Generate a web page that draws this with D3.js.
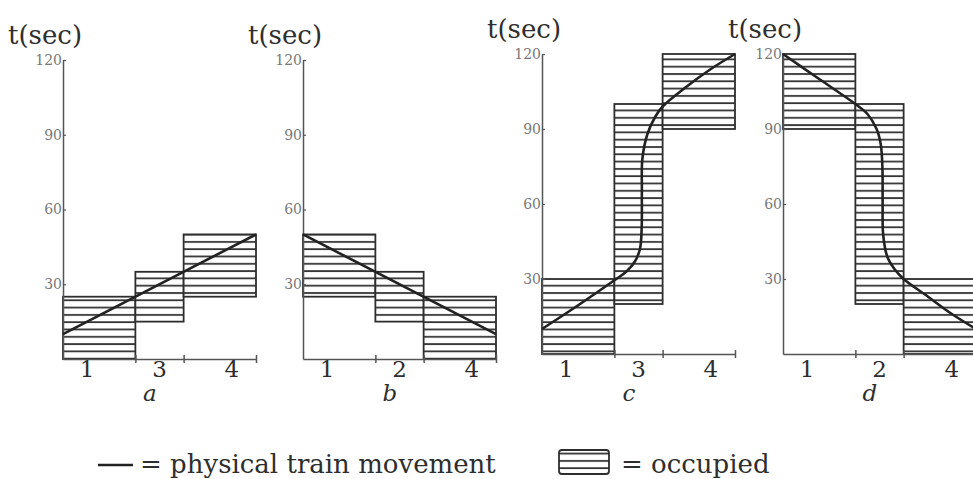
<html>
<head>
<meta charset="utf-8">
<script src="https://d3js.org/d3.v7.min.js"></script>
<style>
    html, body {
        width: 100%;
        height: 100%;
        margin: 0;
        padding: 0;
        background: #fff;
    }
</style>
</head>
<body>
<script>
    // ---- data ----
    var panelLetters = ["a", "b", "c", "d"];
    var sectionBounds = [0, 3, 5, 8];          // track position of block boundaries
    var sectionLabelPos = [1, 4, 7];           // where the block numbers are written
    var timeTicks = [30, 60, 90, 120];

    var sectionLabelsA = ["1", "3", "4"];
    var sectionLabelsB = ["1", "2", "4"];
    var sectionLabelsC = ["1", "3", "4"];
    var sectionLabelsD = ["1", "2", "4"];

    // occupied time window [from, to] (sec) for each block
    var occupiedA = [[0, 25], [15, 35], [25, 50]];
    var occupiedB = [[25, 50], [15, 35], [0, 25]];
    var occupiedC = [[0, 30], [20, 100], [90, 120]];
    var occupiedD = [[90, 120], [20, 100], [0, 30]];

    // physical train movement [position, t]
    var movementA = [[0, 10], [8, 50]];
    var movementB = [[0, 50], [8, 10]];
    var movementC = [[0, 10], [1.5, 19.5], [3, 29.5], [3.5, 33], [3.85, 37], [4.06, 42], [4.13, 50],
                     [4.14, 65], [4.16, 78], [4.37, 88], [4.7, 95], [5, 99], [6, 107], [7, 114], [8, 120]];
    var movementD = [[0, 120], [1.5, 110], [3, 100], [3.5, 96], [3.88, 90], [4.05, 84], [4.12, 75],
                     [4.13, 60], [4.15, 48], [4.32, 39], [4.62, 34], [5, 30], [6, 23], [7, 16], [8, 10]];

    var sectionLabels = [sectionLabelsA, sectionLabelsB, sectionLabelsC, sectionLabelsD];
    var occupied = [occupiedA, occupiedB, occupiedC, occupiedD];
    var movement = [movementA, movementB, movementC, movementD];

    // ---- layout ----
    var width = 973, height = 479;
    var panelX = [63, 303, 542, 783];
    var panelW = 193;
    var panelY = [[359, 60], [359, 60], [354, 54], [354, 54]];
    var ink = "#2e2e2e";
    var serif = "'DejaVu Serif', 'Liberation Serif', serif";

    var svg = d3.select("body").append("svg")
        .attr("width", width)
        .attr("height", height);

    var defs = svg.append("defs");
    var pat = defs.append("pattern")
        .attr("id", "hatch")
        .attr("patternUnits", "userSpaceOnUse")
        .attr("width", 10)
        .attr("height", 7.3);
    pat.append("rect").attr("width", 10).attr("height", 7.3).attr("fill", "#fff");
    pat.append("line")
        .attr("x1", 0).attr("x2", 10)
        .attr("y1", 1).attr("y2", 1)
        .attr("stroke", "#333")
        .attr("stroke-width", 1.8);

    panelLetters.forEach(function (letter, i) {
        var ox = panelX[i];
        var x = d3.scaleLinear().domain([0, 8]).range([ox, ox + panelW]);
        var y = d3.scaleLinear().domain([0, 120]).range(panelY[i]);
        var g = svg.append("g");

        // occupied blocks
        g.selectAll("rect.block")
            .data(occupied[i])
            .enter().append("rect")
            .attr("class", "block")
            .attr("x", function (d, k) { return x(sectionBounds[k]); })
            .attr("width", function (d, k) { return x(sectionBounds[k + 1]) - x(sectionBounds[k]); })
            .attr("y", function (d) { return y(d[1]); })
            .attr("height", function (d) { return y(d[0]) - y(d[1]); })
            .attr("fill", "url(#hatch)")
            .attr("stroke", ink)
            .attr("stroke-width", 1.8);

        // time axis
        var yAxis = d3.axisLeft(y)
            .tickValues(timeTicks)
            .tickSizeInner(-3)
            .tickSizeOuter(0)
            .tickPadding(1);
        var ya = g.append("g")
            .attr("transform", "translate(" + ox + ",0)")
            .call(yAxis);
        ya.select(".domain").attr("stroke", "#555").attr("stroke-width", 1.5);
        ya.selectAll(".tick line").attr("stroke", "#555").attr("stroke-width", 1.2);
        ya.selectAll(".tick text")
            .attr("fill", "#777")
            .style("font-size", "14px")
            .style("font-family", serif);

        // position axis
        var xAxis = d3.axisBottom(x)
            .tickValues(sectionBounds.slice(1))
            .tickSizeOuter(0)
            .tickFormat("");
        var xa = g.append("g")
            .attr("transform", "translate(0," + y(0) + ")")
            .call(xAxis);
        xa.select(".domain").attr("stroke", "#555").attr("stroke-width", 1.5);
        xa.selectAll(".tick line")
            .attr("y1", -4).attr("y2", 4)
            .attr("stroke", "#555").attr("stroke-width", 1.5);

        g.selectAll("text.sec")
            .data(sectionLabels[i])
            .enter().append("text")
            .attr("class", "sec")
            .attr("x", function (d, k) { return x(sectionLabelPos[k]); })
            .attr("y", 377)
            .attr("text-anchor", "middle")
            .attr("fill", ink)
            .style("font-family", serif)
            .style("font-size", "23px")
            .text(function (d) { return d; });

        g.append("text")
            .attr("x", x(3.6))
            .attr("y", 401)
            .attr("text-anchor", "middle")
            .attr("fill", ink)
            .style("font-family", serif)
            .style("font-size", "23px")
            .style("font-style", "italic")
            .text(letter);

        g.append("text")
            .attr("x", ox - 55)
            .attr("y", y(120) - 16)
            .attr("fill", ink)
            .style("font-family", serif)
            .style("font-size", "26px")
            .text("t(sec)");

        // physical train movement
        var line = d3.line()
            .x(function (d) { return x(d[0]); })
            .y(function (d) { return y(d[1]); })
            .curve(d3.curveCatmullRom.alpha(0.5));
        g.append("path")
            .datum(movement[i])
            .attr("d", line)
            .attr("fill", "none")
            .attr("stroke", "#222")
            .attr("stroke-width", 2.6);
    });

    // legend
    var lg = svg.append("g");
    lg.append("line")
        .attr("x1", 98).attr("x2", 133)
        .attr("y1", 465).attr("y2", 465)
        .attr("stroke", "#222").attr("stroke-width", 2.4);
    lg.append("text")
        .attr("x", 140).attr("y", 473)
        .attr("fill", ink)
        .style("font-family", serif)
        .style("font-size", "26px")
        .text("= physical train movement");
    lg.append("rect")
        .attr("x", 559).attr("y", 450)
        .attr("width", 50).attr("height", 24)
        .attr("rx", 3)
        .attr("fill", "url(#hatch)")
        .attr("stroke", ink)
        .attr("stroke-width", 1.8);
    lg.append("text")
        .attr("x", 621).attr("y", 473)
        .attr("fill", ink)
        .style("font-family", serif)
        .style("font-size", "26px")
        .text("= occupied");
</script>
</body>
</html>
